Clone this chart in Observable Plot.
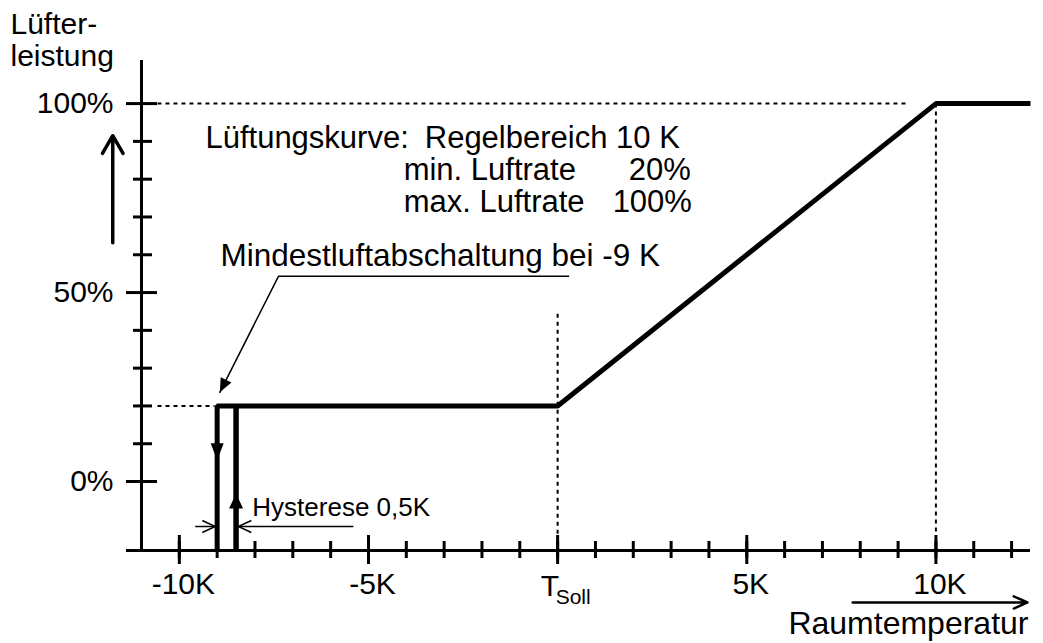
<!DOCTYPE html>
<html><head><meta charset="utf-8">
<script src="https://cdn.jsdelivr.net/npm/d3@7"></script>
<script src="https://cdn.jsdelivr.net/npm/@observablehq/plot@0.6"></script>
<style>html,body{margin:0;padding:0;background:#fff;} #chart svg{display:block}</style>
</head><body><div id="chart"></div>
<script>
// ---------- data ----------
const xDomain = [-11, 12.5];          // Raumtemperatur relative to T_Soll (K)
const yDomain = [-18.25, 111.4];      // Lüfterleistung (%)
const curveK   = [-9, -9, 0, 10, 12.5];
const curvePct = [-18.25, 20, 20, 100, 100];
const hystK    = [-8.5, -8.5];
const hystPct  = [-18.25, 20];
const xMajorTicks = [-10, -5, 0, 5, 10];
const xMinorTicks = [-10, -9, -8, -7, -6, -5, -4, -3, -2, -1, 0, 1, 2, 3, 4, 5, 6, 7, 8, 9, 10, 11, 12];
const xTickLabels = ["-10K", "-5K", "", "5K", "10K"];
const yMajorTicks = [0, 50, 100];
const yMinorTicks = [10, 20, 30, 40, 60, 70, 80, 90];
const yTickLabels = ["0%", "50%", "100%"];
const minRate = 20, maxRate = 100;

// ---------- layout ----------
const W = 1043, H = 643, mL = 141, mR = 13, mT = 60, mB = 93;
const kx = (W - mL - mR) / (xDomain[1] - xDomain[0]);
const ky = (H - mT - mB) / (yDomain[1] - yDomain[0]);
const xL = xDomain[0], yB = yDomain[0];
const pxK = p => p / kx, pxP = p => p / ky;
const font = "'Liberation Sans', Arial, Helvetica, sans-serif";

const curve = curveK.map((k, i) => ({k, pct: curvePct[i]}));
const hyst = hystK.map((k, i) => ({k, pct: hystPct[i]}));

// arrowhead symbol: tip at origin, pointing along angle (screen degrees)
function head(angleDeg, len, wid, open) {
  const a = angleDeg * Math.PI / 180, c = Math.cos(a), s = Math.sin(a);
  const bx = -len * c, by = -len * s, px = -s * wid / 2, py = c * wid / 2;
  return {draw(ctx) {
    ctx.moveTo(bx + px, by + py); ctx.lineTo(0, 0); ctx.lineTo(bx - px, by - py);
    if (!open) ctx.closePath();
  }};
}

const guides = [
  {k1: xL + pxK(16), p1: maxRate, k2: 9.3, p2: maxRate},
  {k1: xL + pxK(16), p1: minRate, k2: -9.07, p2: minRate},
  {k1: 10, p1: maxRate, k2: 10, p2: yB + pxP(15)},
  {k1: 0, p1: 44.4, k2: 0, p2: yB + pxP(15)}
];

const leader = [{k: 0.29, pct: 54.3}, {k: -7.38, pct: 54.3}, {k: -8.93, pct: 23.6}];
const lk = leader[1], lt = leader[2];
const leaderAngle = Math.atan2(-(lt.pct - lk.pct) * ky, (lt.k - lk.k) * kx) * 180 / Math.PI;

const hystArrows = [{k1: -9.58, k2: -9.05, pct: -11.9}, {k1: -5.40, k2: -8.44, pct: -11.9}];

const textsStart = [
  {label: "Lüftungskurve:", k: -9.31, pct: 88.3},
  {label: "min. Luftrate", k: -4.07, pct: 79.8},
  {label: "max. Luftrate", k: -4.07, pct: 71.3}
];
const textsEnd = [
  {label: "Regelbereich 10 K", k: 3.23, pct: 88.3},
  {label: "20%", k: 3.52, pct: 79.8},
  {label: "100%", k: 3.55, pct: 71.3}
];
const note = [{label: "Mindestluftabschaltung bei -9 K", k: -8.91, pct: 56.9}];
const hystNote = [{label: "Hysterese 0,5K", k: -8.07, pct: -9.0}];

const chart = Plot.plot({
  width: W, height: H, marginLeft: mL, marginRight: mR, marginTop: mT, marginBottom: mB,
  x: {domain: xDomain, axis: null},
  y: {domain: yDomain, axis: null},
  style: {fontFamily: font, background: "white", color: "black", overflow: "visible"},
  marks: [
    // dotted guides
    Plot.link(guides, {x1: "k1", y1: "p1", x2: "k2", y2: "p2", stroke: "black", strokeWidth: 2, strokeDasharray: "4,4"}),
    // axes
    Plot.ruleY([yB], {x1: xL - pxK(15), x2: xDomain[1], strokeWidth: 3}),
    Plot.ruleX([xL], {y1: yB, y2: yDomain[1], strokeWidth: 3}),
    // x ticks
    Plot.ruleX(xMinorTicks, {x: d => d, y1: yB + pxP(9), y2: yB - pxP(8), strokeWidth: 3}),
    Plot.ruleX(xMajorTicks, {x: d => d, y1: yB + pxP(15), y2: yB - pxP(14), strokeWidth: 3}),
    // y ticks
    Plot.ruleY(yMinorTicks, {y: d => d, x1: xL - pxK(8), x2: xL + pxK(11), strokeWidth: 3}),
    Plot.ruleY(yMajorTicks, {y: d => d, x1: xL - pxK(15), x2: xL + pxK(16), strokeWidth: 3}),
    // tick labels
    Plot.text(xMajorTicks, {x: d => d, y: yB, text: (d, i) => xTickLabels[i], dx: 4, dy: 43, lineAnchor: "bottom", fontSize: 30}),
    Plot.text([0], {x: d => d, y: yB, text: () => "T", textAnchor: "start", dx: -17, dy: 45, lineAnchor: "bottom", fontSize: 30}),
    Plot.text([0], {x: d => d, y: yB, text: () => "Soll", textAnchor: "start", dx: -2, dy: 53, lineAnchor: "bottom", fontSize: 21}),
    Plot.text(yMajorTicks, {x: xL, y: d => d, text: (d, i) => yTickLabels[i], textAnchor: "end", dx: -28, lineAnchor: "middle", fontSize: 30}),
    // axis titles
    Plot.text(["Lüfter-"], {frameAnchor: "top-left", text: d => d, textAnchor: "start", lineAnchor: "bottom", dx: -131, dy: -27, fontSize: 30}),
    Plot.text(["leistung"], {frameAnchor: "top-left", text: d => d, textAnchor: "start", lineAnchor: "bottom", dx: -131, dy: 5, fontSize: 30}),
    Plot.text(["Raumtemperatur"], {frameAnchor: "bottom-right", text: d => d, textAnchor: "end", lineAnchor: "bottom", dx: -2, dy: 83, fontSize: 32}),
    Plot.arrow([{k1: -11.76, p1: 63.2, k2: -11.76, p2: 91.5}], {x1: "k1", y1: "p1", x2: "k2", y2: "p2", strokeWidth: 3.5, headLength: 8.8, headAngle: 60}),
    Plot.arrow([{k1: 7.80, p1: -32, k2: 12.42, p2: -32}], {x1: "k1", y1: "p1", x2: "k2", y2: "p2", strokeWidth: 2.5, headLength: 9, headAngle: 48}),
    // curves
    Plot.line(curve, {x: "k", y: "pct", strokeWidth: 5, strokeLinejoin: "miter", strokeLinecap: "butt"}),
    Plot.line(hyst, {x: "k", y: "pct", strokeWidth: 5.5, strokeLinecap: "butt"}),
    Plot.dot([{k: -9, pct: 5.6}], {x: "k", y: "pct", r: 5, symbol: head(90, 17, 13), fill: "black", stroke: "none"}),
    Plot.dot([{k: -8.5, pct: -3.2}], {x: "k", y: "pct", r: 5, symbol: head(-90, 15, 14), fill: "black", stroke: "none"}),
    // annotation leader
    Plot.line(leader, {x: "k", y: "pct", strokeWidth: 1.5}),
    Plot.dot([lt], {x: "k", y: "pct", r: 5, symbol: head(leaderAngle, 14, 12), fill: "black", stroke: "none"}),
    // hysteresis arrows
    Plot.link(hystArrows, {x1: "k1", x2: "k2", y1: "pct", y2: "pct", strokeWidth: 1.5}),
    Plot.dot([{k: -9.05, pct: -11.9}], {x: "k", y: "pct", r: 5, symbol: head(0, 13, 12, true), fill: "none", stroke: "black", strokeWidth: 1.5}),
    Plot.dot([{k: -8.44, pct: -11.9}], {x: "k", y: "pct", r: 5, symbol: head(180, 13, 12, true), fill: "none", stroke: "black", strokeWidth: 1.5}),
    Plot.text(hystNote, {x: "k", y: "pct", text: "label", textAnchor: "start", lineAnchor: "bottom", fontSize: 26}),
    // annotation texts
    Plot.text(note, {x: "k", y: "pct", text: "label", textAnchor: "start", lineAnchor: "bottom", fontSize: 31.5}),
    Plot.text(textsStart, {x: "k", y: "pct", text: "label", textAnchor: "start", lineAnchor: "bottom", fontSize: 31}),
    Plot.text(textsEnd, {x: "k", y: "pct", text: "label", textAnchor: "end", lineAnchor: "bottom", fontSize: 31})
  ]
});
document.getElementById("chart").appendChild(chart);
</script>
</body></html>
